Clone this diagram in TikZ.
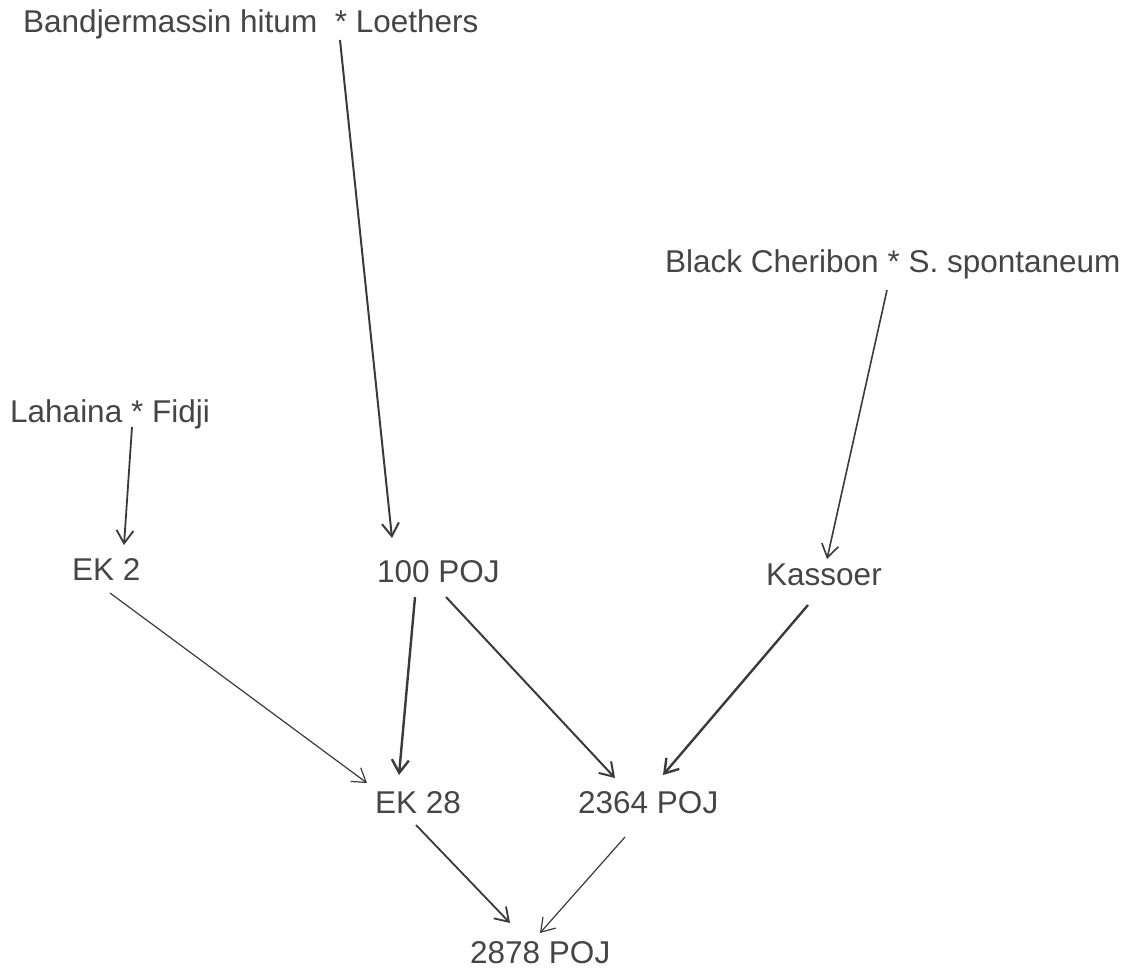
\documentclass[tikz,border=0pt]{standalone}
\usepackage{fontspec}
\setmainfont{Liberation Sans}
\usetikzlibrary{arrows.meta}
\definecolor{ink}{HTML}{454545}
\definecolor{lineink}{HTML}{3A3A3A}
\begin{document}
\begin{tikzpicture}[x=1pt,y=-1pt,
  lbl/.style={anchor=base west,inner sep=0pt,text=ink,font=\fontsize{31.5}{36}\selectfont},
  arr/.style={draw=lineink,line width=#1,-{Straight Barb[length=13pt,width=17pt,line width=#1]}},
  arr/.default=1.8pt]
\useasboundingbox (0,0) rectangle (1130,972);
\node[lbl] (bl) at (23,32) {Bandjermassin hitum\ \ * Loethers};
\node[lbl] (bc) at (665,272) {Black Cheribon * S. spontaneum};
\node[lbl] (lf) at (10,422) {Lahaina * Fidji};
\node[lbl] (ek2) at (72,580) {EK 2};
\node[lbl] (p100) at (377,582) {100 POJ};
\node[lbl] (kas) at (766,585) {Kassoer};
\node[lbl] (ek28) at (375,813) {EK 28};
\node[lbl] (p2364) at (578,813) {2364 POJ};
\node[lbl] (p2878) at (470,963) {2878 POJ};
% parents to first offspring
\draw[arr=2pt] ([shift={(317,8)}]bl.base west) -- ([shift={(15,-44)}]p100.base west);
\draw[arr=1.6pt] ([shift={(222,18)}]bc.base west) -- ([shift={(61,-26)}]kas.base west);
\draw[arr=1.8pt] ([shift={(122,5)}]lf.base west) -- ([shift={(52,-35)}]ek2.base west);
% second generation
\draw[arr=1.2pt] ([shift={(38,13)}]ek2.base west) -- ([shift={(-8,-30)}]ek28.base west);
\draw[arr=2.4pt] ([shift={(38,15)}]p100.base west) -- ([shift={(24,-38)}]ek28.base west);
\draw[arr=2pt] ([shift={(69,15)}]p100.base west) -- ([shift={(37,-35)}]p2364.base west);
\draw[arr=2.4pt] ([shift={(42,20)}]kas.base west) -- ([shift={(85,-38)}]p2364.base west);
% third generation
\draw[arr=1.8pt] ([shift={(41,12)}]ek28.base west) -- ([shift={(40,-40)}]p2878.base west);
\draw[arr=1.2pt] ([shift={(47,24)}]p2364.base west) -- ([shift={(70,-30)}]p2878.base west);
\end{tikzpicture}
\end{document}
